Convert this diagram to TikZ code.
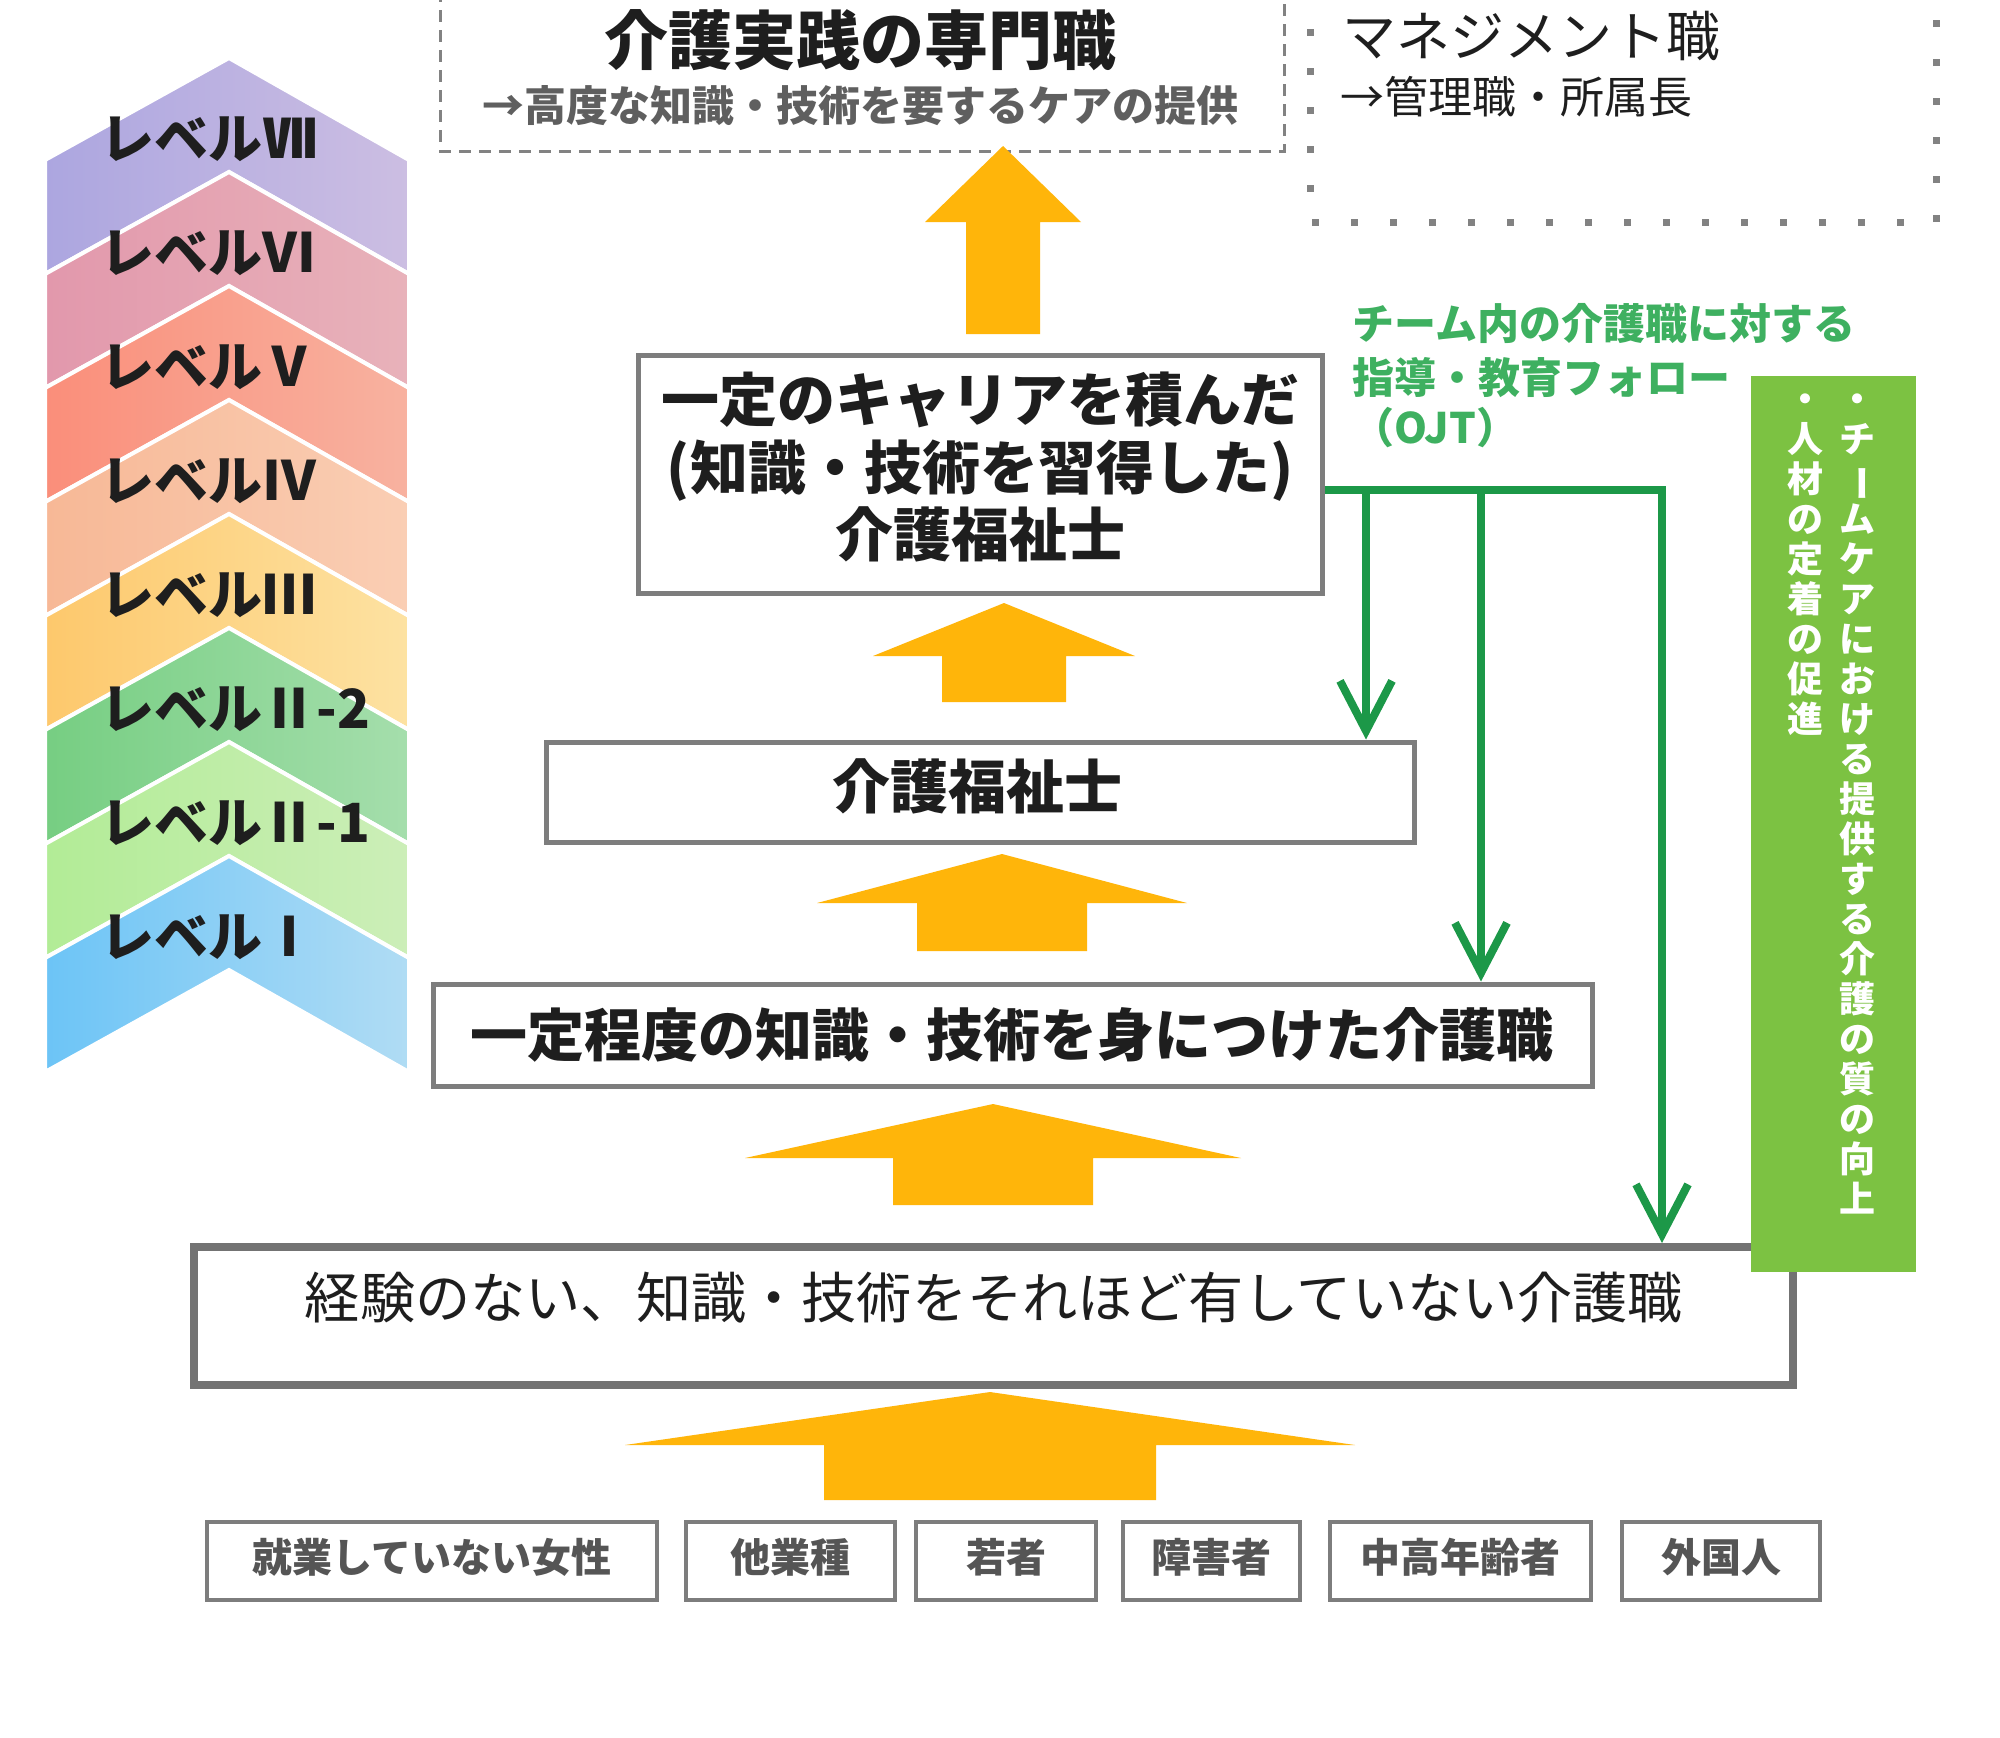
\documentclass[tikz,border=0pt]{standalone}
\usepackage{fontspec}
\setmainfont{Noto Sans CJK JP}
\usepackage{graphicx}
\usetikzlibrary{arrows.meta,fit}

\definecolor{orng}{RGB}{255,181,10}
\definecolor{gline}{RGB}{28,152,72}
\definecolor{gtext}{RGB}{62,176,96}
\definecolor{gbox}{RGB}{124,194,66}
\definecolor{bord}{RGB}{125,125,125}
\definecolor{bordD}{RGB}{115,115,115}
\definecolor{dashc}{RGB}{130,130,130}
\definecolor{subg}{RGB}{95,95,95}
\definecolor{stext}{RGB}{85,85,85}
\definecolor{ink}{RGB}{30,30,30}

\definecolor{c7l}{RGB}{172,166,224}\definecolor{c7r}{RGB}{204,190,226}
\definecolor{c6l}{RGB}{226,152,172}\definecolor{c6r}{RGB}{232,178,186}
\definecolor{c5l}{RGB}{250,142,122}\definecolor{c5r}{RGB}{248,178,160}
\definecolor{c4l}{RGB}{247,184,150}\definecolor{c4r}{RGB}{250,206,180}
\definecolor{c3l}{RGB}{253,200,108}\definecolor{c3r}{RGB}{253,226,162}
\definecolor{c2bl}{RGB}{118,206,130}\definecolor{c2br}{RGB}{165,222,172}
\definecolor{c2al}{RGB}{178,236,150}\definecolor{c2ar}{RGB}{204,238,184}
\definecolor{c1l}{RGB}{108,196,246}\definecolor{c1r}{RGB}{176,220,244}

% orange up-arrow: cx, tip, base, half head width, half shaft width, bottom
\newcommand\orarrow[6]{\fill[arrowfill] ({#1-#4},#3) -- (#1,#2) -- ({#1+#4},#3) -- ({#1+#5},#3) -- ({#1+#5},#6) -- ({#1-#5},#6) -- ({#1-#5},#3) -- cycle;}
\newcommand\vlong{\rotatebox[origin=c]{-90}{ー}}

\tikzset{
  box/.style={draw=bord, line width=2.5pt, fill=white, inner sep=0pt},
  bigbox/.style={draw=bordD, line width=4pt, fill=white, inner sep=0pt},
  sbox/.style={draw=bord, line width=2pt, fill=white, inner sep=0pt},
  stxt/.style={font=\fontsize{20pt}{24pt}\selectfont\bfseries, text=stext, inner sep=0pt},
  lbl/.style={font=\fontsize{29pt}{33.75pt}\selectfont\bfseries, text=ink, align=center, inner sep=0pt},
  lvl/.style={font=\fontsize{27pt}{30pt}\selectfont\bfseries, text=ink, anchor=west, inner sep=0pt},
  gconn/.style={draw=gline, line width=4pt},
  gtip/.style={-{Straight Barb[length=25pt,width=26pt]}},
  gnote/.style={font=\fontsize{21pt}{25pt}\selectfont\bfseries, text=gtext, anchor=west, inner sep=0pt},
  vtext/.style={font=\fontsize{18pt}{20pt}\selectfont\bfseries, text=white, align=center, inner sep=0pt, anchor=north},
  arrowfill/.style={fill=orng},
}

\begin{document}
\begin{tikzpicture}[x=0.5pt,y=-0.5pt]
\useasboundingbox (0,0) rectangle (2000,1737);
\fill[white] (0,0) rectangle (2000,1737);

% ---- level chevrons ----
\foreach \k/\cl/\cr/\lab in {0/c7l/c7r/レベルⅦ, 1/c6l/c6r/レベルⅥ, 2/c5l/c5r/レベルⅤ, 3/c4l/c4r/レベルⅣ, 4/c3l/c3r/レベルⅢ, 5/c2bl/c2br/レベルⅡ-2, 6/c2al/c2ar/レベルⅡ-1, 7/c1l/c1r/レベルⅠ}{
  \pgfmathsetmacro\yt{58+114*\k}
  \shadedraw[left color=\cl, right color=\cr, draw=white, line width=2pt]
    (45,{\yt+102}) -- (229,\yt) -- (409,{\yt+102}) -- (409,{\yt+216}) -- (229,{\yt+114}) -- (45,{\yt+216}) -- cycle;
  \node[lvl] (lv\k) at (100,{\yt+81}) {\lab};
}

% ---- top dashed box ----
\draw[dashc, line width=1.5pt, dash pattern=on 6pt off 4pt] (440,-10) -- (440,151) -- (1284,151) -- (1284,-10);
\node[font=\fontsize{32pt}{36pt}\selectfont\bfseries, text=ink, inner sep=0pt] (t1) at (860,40) {介護実践の専門職};
\node[font=\fontsize{21pt}{25pt}\selectfont\bfseries, text=subg, inner sep=0pt] (t2) at (860,106) {→高度な知識・技術を要するケアの提供};

% ---- management dotted box ----
\draw[dashc, line width=3.5pt, dash pattern=on 3.5pt off 16pt] (1310,-10) -- (1310,222) -- (1936,222) -- (1936,-10);
\node[font=\fontsize{27pt}{30pt}\selectfont, text=ink, anchor=west, inner sep=0pt] (m1) at (1342,36) {マネジメント職};
\node[font=\fontsize{22pt}{26pt}\selectfont, text=ink, anchor=west, inner sep=0pt] (m2) at (1340,97) {→管理職・所属長};

% ---- orange arrows ----
\orarrow{1003}{146}{222}{78}{37}{334}
\orarrow{1004}{603}{656}{131}{62}{702}
\orarrow{1002}{854}{903}{185}{85}{951}
\orarrow{993}{1104}{1158}{248}{100}{1205}
\orarrow{990}{1392}{1445}{365}{166}{1500}

% ---- boxes ----
\node[box, fit={(638,355)(1322,593)}] (boxA) {};
\node[lbl] (tA) at (980,467) {一定のキャリアを積んだ\\(知識・技術を習得した)\\介護福祉士};

\node[box, fit={(546,742)(1414,842)}] (boxB) {};
\node[lbl] (tB) at (977,786) {介護福祉士};

\node[box, fit={(433,984)(1592,1086)}] (boxC) {};
\node[lbl, font=\fontsize{28.5pt}{33pt}\selectfont\bfseries] (tC) at (1012,1035) {一定程度の知識・技術を身につけた介護職};

\node[bigbox, fit={(194,1247)(1793,1385)}] (boxD) {};
\node[font=\fontsize{27.6pt}{32pt}\selectfont, text=ink, inner sep=0pt] (tD) at (994,1298) {経験のない、知識・技術をそれほど有していない介護職};

% ---- green side box ----
\fill[gbox] (1751,376) rectangle (1916,1272);
\node[vtext] (v1) at (1857,393) {・\\チ\\\vlong\\ム\\ケ\\ア\\に\\お\\け\\る\\提\\供\\す\\る\\介\\護\\の\\質\\の\\向\\上};
\node[vtext] (v2) at (1805,393) {・\\人\\材\\の\\定\\着\\の\\促\\進};

% ---- green note ----
\node[gnote] (g1) at (1352,324) {チーム内の介護職に対する};
\node[gnote] (g2) at (1352,378) {指導・教育フォロー};
\node[gnote] (g3) at (1352,428) {（OJT）};

% ---- green connectors ----
\coordinate (jm) at (1662,490);
\coordinate (j1) at (1366,490);
\coordinate (j2) at (1481,490);
\draw[gconn, gtip] (boxA.east |- jm) -- (jm) -- (jm |- boxD.north);
\draw[gconn, gtip] (j1) -- (j1 |- boxB.north);
\draw[gconn, gtip] (j2) -- (j2 |- boxC.north);

% ---- source boxes ----
\node[sbox, fit={(207,1522)(657,1600)}] (s1) {};
\node[sbox, fit={(686,1522)(895,1600)}] (s2) {};
\node[sbox, fit={(916,1522)(1096,1600)}] (s3) {};
\node[sbox, fit={(1123,1522)(1300,1600)}] (s4) {};
\node[sbox, fit={(1330,1522)(1591,1600)}] (s5) {};
\node[sbox, fit={(1622,1522)(1820,1600)}] (s6) {};
\node[stxt] (st1) at ([yshift=2pt]s1.center) {就業していない女性};
\node[stxt] (st2) at ([yshift=2pt]s2.center) {他業種};
\node[stxt] (st3) at ([yshift=2pt]s3.center) {若者};
\node[stxt] (st4) at ([yshift=2pt]s4.center) {障害者};
\node[stxt] (st5) at ([yshift=2pt]s5.center) {中高年齢者};
\node[stxt] (st6) at ([yshift=2pt]s6.center) {外国人};
\end{tikzpicture}
\end{document}
